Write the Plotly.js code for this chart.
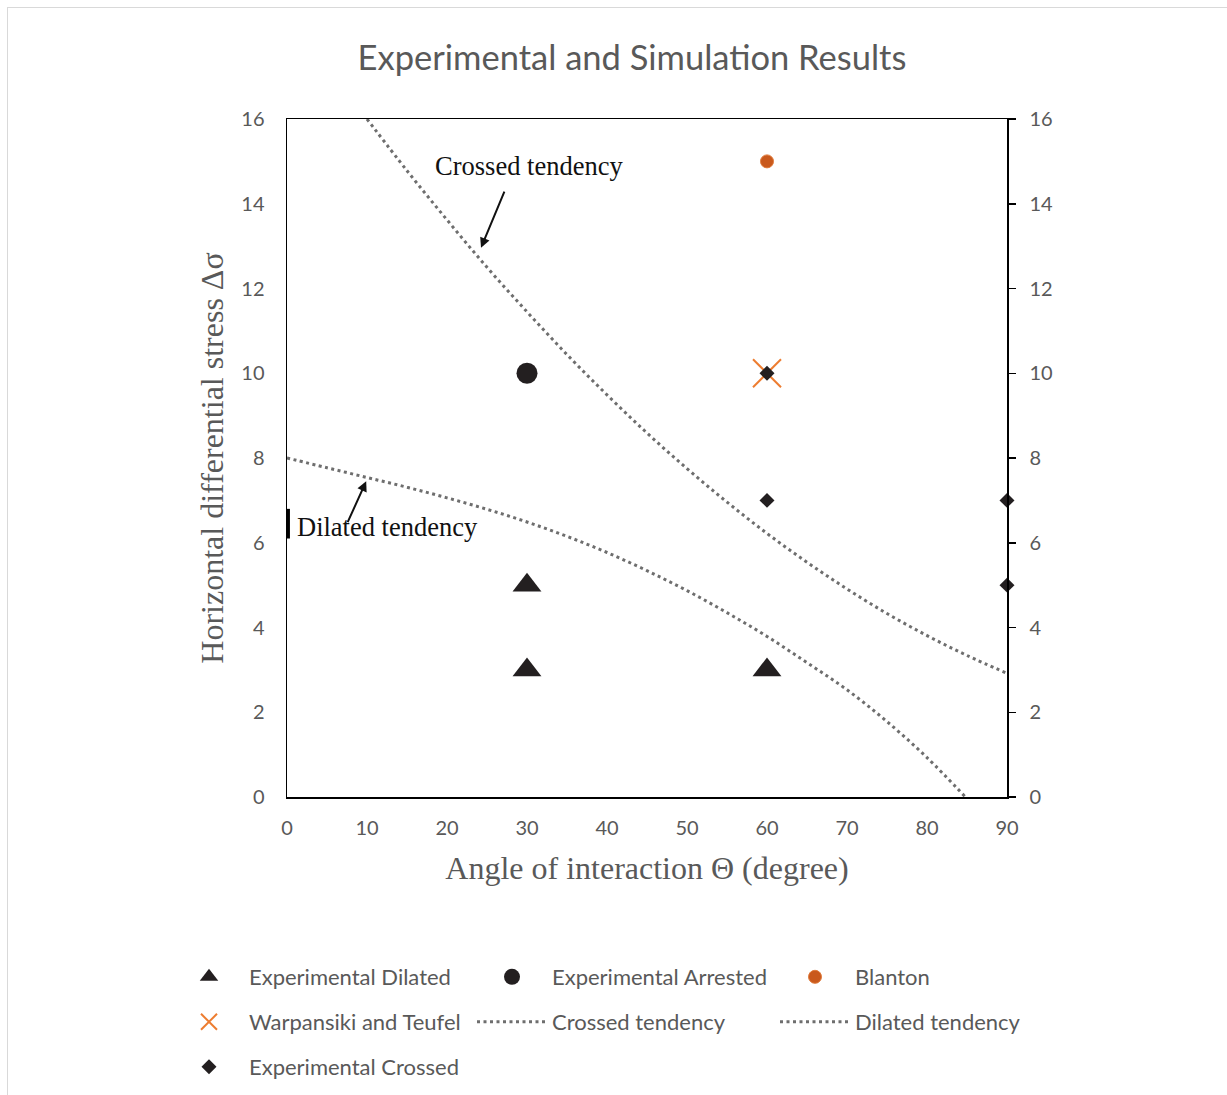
<!DOCTYPE html>
<html>
<head>
<meta charset="utf-8">
<script src="https://cdn.plot.ly/plotly-3.0.1.min.js"></script>
<style>
  html, body { margin: 0; padding: 0; background: #fff; }
  #chart { width: 1227px; height: 1095px; position: relative; }
  #frame { position: absolute; left: 7px; top: 7px; width: 1240px; height: 1110px;
           border-left: 1.5px solid #d9d9d9; border-top: 1.5px solid #d9d9d9; pointer-events: none; }
</style>
</head>
<body>
<div id="chart"></div>
<div id="frame"></div>
<script>
// ---- data ----
const dilatedX = [30, 30, 60];
const dilatedY = [5, 3, 3];

const arrestedX = [30];
const arrestedY = [10];

const blantonX = [60];
const blantonY = [15];

const warpX = [60];
const warpY = [10];

const crossedX = [60, 60, 90, 90];
const crossedY = [10, 7, 7, 5];

const crossedTrendX = [10, 15, 20, 25, 30, 35, 40, 45, 50, 55, 60, 65, 70, 75, 80, 85, 90];
const crossedTrendY = [16.0, 14.78, 13.62, 12.5, 11.45, 10.44, 9.49, 8.59, 7.75, 6.96, 6.22, 5.54, 4.91, 4.33, 3.81, 3.34, 2.92];

const dilatedTrendX = [0, 5, 10, 15, 20, 25, 30, 35, 40, 45, 50, 55, 60, 65, 70, 75, 80, 84.8];
const dilatedTrendY = [8.0, 7.77, 7.54, 7.31, 7.06, 6.79, 6.49, 6.15, 5.77, 5.34, 4.87, 4.35, 3.79, 3.17, 2.53, 1.78, 0.93, 0];

const xTicks = [0, 10, 20, 30, 40, 50, 60, 70, 80, 90];
const yTicks = [0, 2, 4, 6, 8, 10, 12, 14, 16];

// ---- styles ----
const gray = '#595959';
const sans = 'Lato, "Open Sans", sans-serif';
const serif = '"Liberation Serif", "Times New Roman", serif';
const dotColor = '#6e6e6e';

const traces = [
  { x: dilatedX, y: dilatedY, name: 'Experimental Dilated', type: 'scatter', mode: 'markers',
    marker: { symbol: 'triangle-up', size: 25, color: '#231f20' }, legend: 'legend' },
  { x: arrestedX, y: arrestedY, name: 'Experimental Arrested', type: 'scatter', mode: 'markers',
    marker: { symbol: 'circle', size: 21, color: '#231f20' }, legend: 'legend' },
  { x: blantonX, y: blantonY, name: 'Blanton', type: 'scatter', mode: 'markers',
    marker: { symbol: 'circle', size: 13, color: '#c9591c', line: { color: '#e07a3a', width: 1 } }, legend: 'legend' },
  { x: warpX, y: warpY, name: 'Warpansiki and Teufel', type: 'scatter', mode: 'markers',
    marker: { symbol: 'x-thin-open', size: 28, color: '#ed7d31', line: { color: '#ed7d31', width: 2 } }, legend: 'legend2' },
  { x: crossedTrendX, y: crossedTrendY, name: 'Crossed tendency', type: 'scatter', mode: 'lines',
    line: { color: dotColor, width: 3, dash: '3px,3.5px', shape: 'spline' }, legend: 'legend2' },
  { x: dilatedTrendX, y: dilatedTrendY, name: 'Dilated tendency', type: 'scatter', mode: 'lines',
    line: { color: dotColor, width: 3, dash: '3px,3.5px', shape: 'spline' }, legend: 'legend2' },
  { x: crossedX, y: crossedY, name: 'Experimental Crossed', type: 'scatter', mode: 'markers',
    marker: { symbol: 'diamond', size: 11.5, color: '#231f20' }, legend: 'legend3', cliponaxis: false },
  { x: [0], y: [0], yaxis: 'y2', type: 'scatter', mode: 'markers', showlegend: false,
    marker: { opacity: 0 }, hoverinfo: 'skip' }
];

const legendBase = {
  orientation: 'h', xref: 'paper', yref: 'paper', xanchor: 'left', yanchor: 'middle',
  x: (169 - 287) / 720, entrywidth: 218, entrywidthmode: 'pixels', itemwidth: 70,
  font: { family: sans, size: 22, color: gray }, bgcolor: 'rgba(0,0,0,0)', borderwidth: 0
};

const layout = {
  width: 1227, height: 1095,
  paper_bgcolor: '#ffffff', plot_bgcolor: '#ffffff',
  margin: { l: 287, r: 220, t: 119, b: 298, autoexpand: false },
  title: { text: 'Experimental and Simulation Results', x: 632 / 1227, xanchor: 'center', xref: 'container',
           y: 1 - 58 / 1095, yanchor: 'middle', yref: 'container',
           font: { family: sans, size: 34.5, color: gray } },
  xaxis: {
    range: [0, 90], tickvals: xTicks, ticktext: xTicks.map(String),
    showline: true, linecolor: '#000', linewidth: 1.5, mirror: true,
    ticks: '', showgrid: false, zeroline: false, ticklabelstandoff: 12,
    tickfont: { family: sans, size: 20, color: gray },
    title: { text: 'Angle of interaction Θ (degree)', font: { family: serif, size: 32, color: gray }, standoff: 19 }
  },
  yaxis: {
    range: [0, 16], tickvals: yTicks, ticktext: yTicks.map(String),
    showline: true, linecolor: '#000', linewidth: 1.5,
    ticks: '', showgrid: false, zeroline: false, ticklabelstandoff: 17,
    tickfont: { family: sans, size: 20, color: gray },
    title: { text: 'Horizontal differential stress Δσ', font: { family: serif, size: 32, color: gray }, standoff: 8 }
  },
  yaxis2: {
    range: [0, 16], tickvals: yTicks, ticktext: yTicks.map(String), overlaying: 'y', side: 'right',
    showline: true, linecolor: '#000', linewidth: 1.5,
    ticks: 'outside', ticklen: 7, tickcolor: '#000', tickwidth: 1.5,
    showgrid: false, zeroline: false, ticklabelstandoff: 10,
    tickfont: { family: sans, size: 20, color: gray }
  },
  legend: Object.assign({}, legendBase, { y: (797 - 977) / 678 }),
  legend2: Object.assign({}, legendBase, { y: (797 - 1022) / 678 }),
  legend3: Object.assign({}, legendBase, { y: (797 - 1067) / 678 }),
  annotations: [
    { x: 30.25, y: 14.89, xref: 'x', yref: 'y', text: 'Crossed tendency', showarrow: false,
      font: { family: serif, size: 26.5, color: '#111' } },
    { x: 24.25, y: 12.96, xref: 'x', yref: 'y', ax: 27.25, ay: 14.32, axref: 'x', ayref: 'y',
      text: '', showarrow: true, arrowhead: 2, arrowsize: 1, arrowwidth: 2, arrowcolor: '#111' },
    { x: 12.6, y: 6.37, xref: 'x', yref: 'y', text: 'Dilated tendency', showarrow: false,
      font: { family: serif, size: 26.5, color: '#111' } },
    { x: 9.9, y: 7.45, xref: 'x', yref: 'y', ax: 7.5, ay: 6.45, axref: 'x', ayref: 'y',
      text: '', showarrow: true, arrowhead: 2, arrowsize: 1, arrowwidth: 2, arrowcolor: '#111' }
  ],
  shapes: [
    { type: 'line', xref: 'paper', yref: 'y', x0: 0.002, x1: 0.002, y0: 6.1, y1: 6.8,
      line: { color: '#000', width: 3 } }
  ],
  showlegend: true
};

Plotly.newPlot('chart', traces, layout, { displayModeBar: false, staticPlot: true });
</script>
</body>
</html>
